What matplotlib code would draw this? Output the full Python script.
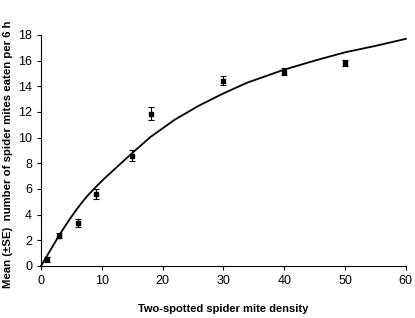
import matplotlib
matplotlib.use('Agg')
import matplotlib.pyplot as plt

plt.rcParams['font.family'] = ['Liberation Sans', 'DejaVu Sans']

# observed means (+-SE)
density = [1, 3, 6, 9, 15, 18, 30, 40, 50]
eaten = [0.5, 2.35, 3.35, 5.6, 8.6, 11.85, 14.45, 15.15, 15.8]
se = [0.2, 0.2, 0.3, 0.4, 0.45, 0.5, 0.35, 0.3, 0.25]

# fitted curve
curve_x = [0, 1.5, 3, 4.5, 6, 7.5, 9, 10.5, 12, 15, 18, 22, 26, 30, 34, 40, 45, 50, 55, 60]
curve_y = [0, 1.2, 2.4, 3.5, 4.5, 5.4, 6.15, 6.85, 7.5, 8.8, 10.05, 11.4, 12.5, 13.45,
           14.3, 15.3, 16.0, 16.65, 17.15, 17.7]

fig = plt.figure(figsize=(4.15, 3.18), dpi=100)
ax = fig.add_axes([0.099, 0.164, 0.879, 0.726])

ax.plot(curve_x, curve_y, color='black', lw=1.3, clip_on=False,
        solid_joinstyle='round')
ax.errorbar(density, eaten, yerr=se, fmt='s', color='black', ms=3.5,
            ecolor='black', elinewidth=0.8, capsize=2.5, capthick=0.8)

ax.set_xlim(0, 60)
ax.set_ylim(0, 18)
ax.set_xticks(range(0, 61, 10))
ax.set_yticks(range(0, 19, 2))
ax.spines['top'].set_visible(False)
ax.spines['right'].set_visible(False)
ax.tick_params(direction='out', length=3, labelsize=9, width=0.8)
ax.set_xlabel('Two-spotted spider mite density', fontsize=8, fontweight='bold', labelpad=12)
ax.set_ylabel('Mean (\u00b1SE)  number of spider mites eaten per 6 h', fontsize=8.2,
              fontweight='bold')
ax.yaxis.set_label_coords(-0.078, 0.485)

fig.savefig('out.png', dpi=100)
